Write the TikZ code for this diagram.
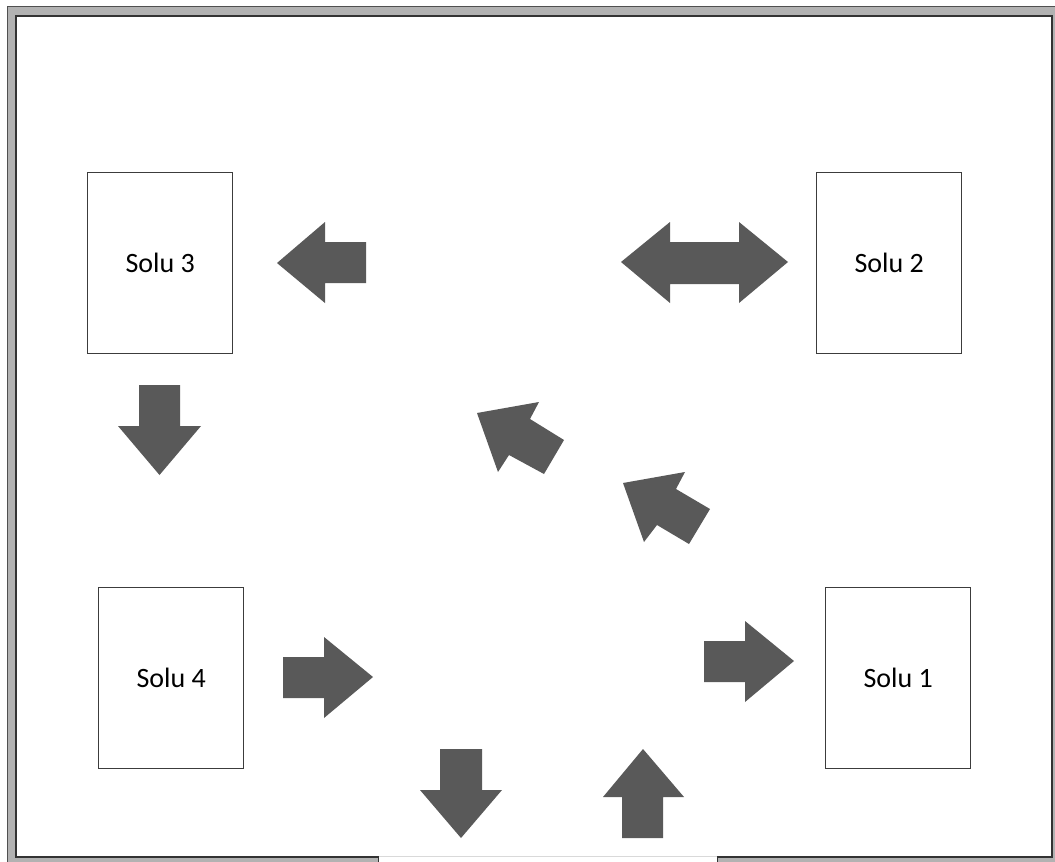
\documentclass[tikz,border=0pt]{standalone}
\usepackage{fontspec}
\setmainfont{Carlito}
\definecolor{arrowgrey}{HTML}{595959}
\definecolor{wallgrey}{HTML}{B2B2B2}
\definecolor{walledge}{HTML}{505050}
\definecolor{boxedge}{HTML}{3C3C3C}
\tikzset{
  solubox/.style={draw=boxedge, line width=1.3pt, fill=white, minimum width=145pt, minimum height=181pt, inner sep=0pt, font=\fontsize{28}{32}\selectfont, anchor=north west},
  blockarrow/.style={fill=arrowgrey, draw=none},
}
\begin{document}
\begin{tikzpicture}[x=1pt,y=-1pt]
\useasboundingbox (0,0) rectangle (1055,862);
\clip (0,0) rectangle (1055,862);
\fill[white] (0,0) rectangle (1055,862);
% walls
\filldraw[fill=wallgrey, draw=walledge, line width=1pt] (7,6) rectangle (1064,870);
\filldraw[fill=white, draw=black!80, line width=1.6pt] (16,16) rectangle (1052,857);
% door gap
\fill[white] (378,855) rectangle (717,866);
\draw[black!15, line width=1pt] (378,856) -- (717,856);
\draw[black!80, line width=1pt] (378,856) -- (378,866) (717,856) -- (717,866);
% boxes
\node[solubox] (s3) at (87,172) {Solu 3};
\node[solubox] (s2) at (816,172) {Solu 2};
\node[solubox] (s4) at (98,587) {Solu 4};
\node[solubox] (s1) at (825,587) {Solu 1};
% left arrow near Solu 3
\fill[blockarrow] (277,263) -- (325,222) -- (325,242) -- (366,242) -- (366,283) -- (325,283) -- (325,303) -- cycle;
% double arrow near Solu 2
\fill[blockarrow] (621,262) -- (670,222) -- (670,242) -- (739,242) -- (739,222) -- (788,262) -- (739,303) -- (739,284) -- (670,284) -- (670,303) -- cycle;
% down arrow below Solu 3
\fill[blockarrow] (139,385) -- (180,385) -- (180,426) -- (201,426) -- (159.5,475) -- (118,426) -- (139,426) -- cycle;
% right arrow near Solu 4
\fill[blockarrow] (283,657) -- (324,657) -- (324,637) -- (373,677) -- (324,718) -- (324,698) -- (283,698) -- cycle;
% right arrow near Solu 1
\fill[blockarrow] (704,641) -- (745,641) -- (745,621) -- (794,661) -- (745,702) -- (745,682) -- (704,682) -- cycle;
% down arrow at bottom
\fill[blockarrow] (440,749) -- (482,749) -- (482,790) -- (502,790) -- (461,838) -- (420,790) -- (440,790) -- cycle;
% up arrow at bottom
\fill[blockarrow] (643,749) -- (684,797) -- (663,797) -- (663,838) -- (622,838) -- (622,797) -- (603,797) -- cycle;
% diagonal arrow upper
\fill[blockarrow] (477,413) -- (539,402) -- (530,419) -- (564,440) -- (544,474) -- (509,455) -- (498,472) -- cycle;
% diagonal arrow lower
\fill[blockarrow] (623,483) -- (685,472) -- (676,489) -- (710,509) -- (689,544) -- (657,525) -- (644,542) -- cycle;
\end{tikzpicture}
\end{document}
